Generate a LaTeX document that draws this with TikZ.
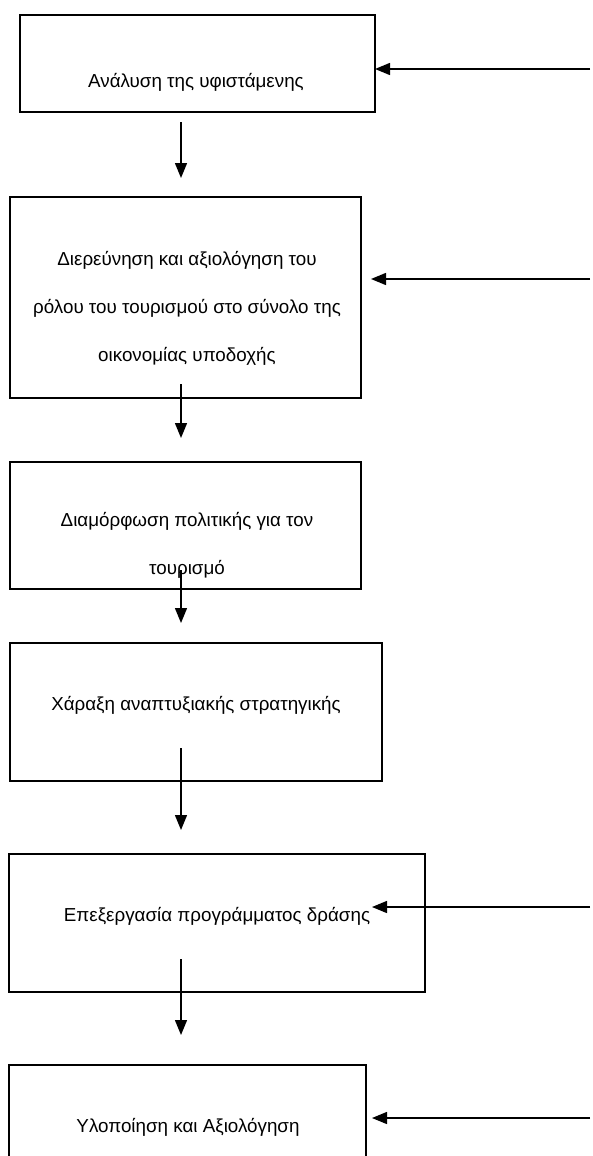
\documentclass[tikz,border=0pt]{standalone}
\usepackage{fontspec}
\setmainfont{Liberation Sans}
\usetikzlibrary{arrows.meta}
\tikzset{
  box/.style={draw, line width=1.4pt, rectangle, inner sep=0pt},
  lbl/.style={inner sep=0pt, align=center, font=\fontsize{18.8}{48}\selectfont},
  flow/.style={line width=1.4pt, -{Triangle[length=15pt,width=12pt]}},
}
\begin{document}
\begin{tikzpicture}[x=1pt,y=-1pt]
\useasboundingbox (0,0) rectangle (593,1156);
\fill[white] (0,0) rectangle (593,1156);
% boxes
\node[box, minimum width=355pt, minimum height=97pt] (b1) at (197.5,63.5) {};
\node[box, minimum width=351pt, minimum height=201pt] (b2) at (185.5,297.5) {};
\node[box, minimum width=351pt, minimum height=127pt] (b3) at (185.5,525.5) {};
\node[box, minimum width=372pt, minimum height=138pt] (b4) at (196,712) {};
\node[box, minimum width=416pt, minimum height=138pt] (b5) at (217,923) {};
\node[box, minimum width=357pt, minimum height=135pt] (b6) at (187.5,1132.5) {};
% texts
\node[lbl] (t1) at (196,82) {Ανάλυση της υφιστάμενης};
\node[lbl] (t2) at (187,308) {Διερεύνηση και αξιολόγηση του\\ρόλου του τουρισμού στο σύνολο της\\οικονομίας υποδοχής};
\node[lbl] (t3) at (187,545.5) {Διαμόρφωση πολιτικής για τον\\τουρισμό};
\node[lbl] (t4) at (196,705) {Χάραξη αναπτυξιακής στρατηγικής};
\node[lbl] (t5) at (217,916) {Επεξεργασία προγράμματος δράσης};
\node[lbl] (t6) at (188,1127) {Υλοποίηση και Αξιολόγηση};
% connector ends
\coordinate (d1s) at (181,122); \coordinate (d1e) at (181,178);
\coordinate (d2s) at (181,384); \coordinate (d2e) at (181,438);
\coordinate (d3s) at (181,570); \coordinate (d3e) at (181,623);
\coordinate (d4s) at (181,748); \coordinate (d4e) at (181,830);
\coordinate (d5s) at (181,959); \coordinate (d5e) at (181,1035);
\coordinate (r1s) at (590,69);  \coordinate (r1e) at (375,69);
\coordinate (r2s) at (590,279); \coordinate (r2e) at (371,279);
\coordinate (r5s) at (590,907); \coordinate (r5e) at (372,907);
\coordinate (r6s) at (590,1118); \coordinate (r6e) at (372,1118);
\draw[flow] (d1s) -- (d1e);
\draw[flow] (d2s) -- (d2e);
\draw[flow] (d3s) -- (d3e);
\draw[flow] (d4s) -- (d4e);
\draw[flow] (d5s) -- (d5e);
\draw[flow] (r1s) -- (r1e);
\draw[flow] (r2s) -- (r2e);
\draw[flow] (r5s) -- (r5e);
\draw[flow] (r6s) -- (r6e);
\end{tikzpicture}
\end{document}
